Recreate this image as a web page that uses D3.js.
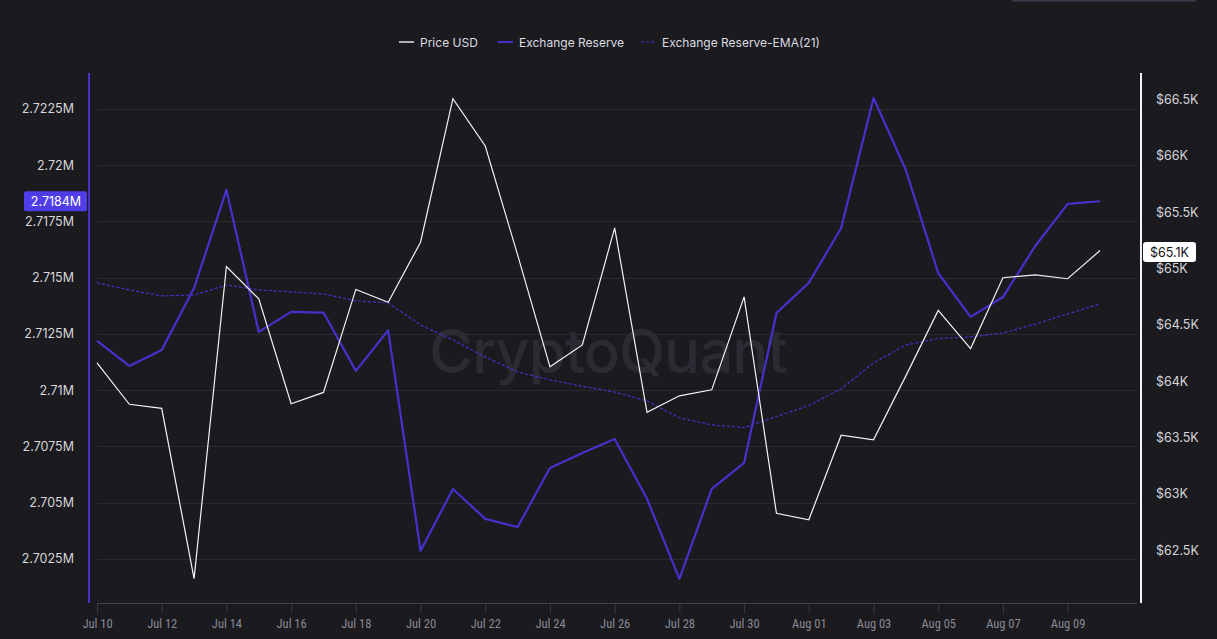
<!DOCTYPE html>
<html>
<head>
<meta charset="utf-8">
<script src="https://cdn.jsdelivr.net/npm/d3@7"></script>
<style>
  html, body { margin: 0; padding: 0; background: #1a1a1f; }
  svg { display: block; }
  text { font-family: Inter, "Noto Sans", sans-serif; }
</style>
</head>
<body>
<div class="container"></div>
<script>
const WIDTH = 1217;
const HEIGHT = 639;

// daily points, Jul 10 .. Aug 10
const startDate = "2024-07-10";
const priceUsd = [64172, 63804, 63768, 62256, 65027, 64739, 63808, 63909, 64823, 64709,
  65242, 66516, 66096, 65130, 64136, 64331, 65369, 63732, 63879, 63932,
  64757, 62836, 62779, 63529, 63489, 64056, 64637, 64298, 64927, 64952,
  64918, 65168];
const reserve = [2.71219, 2.71108, 2.71179, 2.71454, 2.71890, 2.71259, 2.71348, 2.71345, 2.71086, 2.71266,
  2.70286, 2.70561, 2.70428, 2.70392, 2.70654, 2.70721, 2.70783, 2.70517, 2.70161, 2.70561,
  2.70677, 2.71343, 2.71477, 2.71721, 2.72299, 2.71979, 2.71521, 2.71326, 2.71414, 2.71641,
  2.71828, 2.71840];
const reserveEma = [2.71477, 2.71446, 2.71419, 2.71423, 2.71468, 2.71446, 2.71437, 2.71428, 2.71397, 2.71388,
  2.71290, 2.71223, 2.71148, 2.71081, 2.71046, 2.71017, 2.70992, 2.70952, 2.70877, 2.70846,
  2.70834, 2.70883, 2.70932, 2.71006, 2.71121, 2.71201, 2.71230, 2.71237, 2.71254, 2.71294,
  2.71339, 2.71383];
const leftTicks = [2.7025, 2.705, 2.7075, 2.71, 2.7125, 2.715, 2.7175, 2.72, 2.7225];
const rightTicks = [62500, 63000, 63500, 64000, 64500, 65000, 65500, 66000, 66500];
const legendItems = ["Price USD", "Exchange Reserve", "Exchange Reserve-EMA(21)"];

const PURPLE = "#4532cc";
const GRID = "#2a2a31";

var parseDay = d3.timeParse("%Y-%m-%d");
var dates = priceUsd.map(function (d, i) { return d3.timeDay.offset(parseDay(startDate), i); });

var svg = d3.select('.container').append('svg')
  .attr('width', WIDTH)
  .attr('height', HEIGHT);

svg.append('rect').attr('width', WIDTH).attr('height', HEIGHT).attr('fill', '#1a1a1f');
svg.append('rect').attr('x', 1012).attr('y', 0).attr('width', 184).attr('height', 1.5)
  .attr('fill', '#3b3a4c');

var xScale = d3.scaleTime()
  .domain([dates[0], dates[dates.length - 1]])
  .range([97, 1100]);
var yLeft = d3.scaleLinear()
  .domain([2.70054, 2.7241])
  .range([603, 73]);
var yRight = d3.scaleLinear()
  .domain([62040, 66744])
  .range([603, 73]);

// grid
svg.append('g').selectAll('line').data(leftTicks).enter().append('line')
  .attr('x1', 97).attr('x2', 1137)
  .attr('y1', function (d) { return Math.round(yLeft(d)) + 0.5; })
  .attr('y2', function (d) { return Math.round(yLeft(d)) + 0.5; })
  .attr('stroke', GRID).attr('stroke-width', 1);

// watermark
svg.append('text')
  .attr('x', 608).attr('y', 373)
  .attr('text-anchor', 'middle')
  .attr('font-size', 60).attr('font-weight', 500)
  .attr('fill', '#2b2b33')
  .attr('letter-spacing', -1)
  .text('CryptoQuant');

// x axis
var xTicks = dates.filter(function (d, i) { return i % 2 === 0 && i < 31; });
var xAxis = d3.axisBottom(xScale)
  .tickValues(xTicks)
  .tickFormat(d3.timeFormat("%b %d"))
  .tickSize(10)
  .tickPadding(6);
var gx = svg.append('g')
  .attr('transform', 'translate(0,603.5)')
  .call(xAxis);
gx.select('.domain').attr('d', 'M97,0H1137').attr('stroke', '#44444c');
gx.selectAll('.tick line').attr('stroke', '#3a3a42');
gx.selectAll('.tick text')
  .attr('fill', '#8a8a94')
  .attr('font-size', 12.5)
  .style('font-family', '"Liberation Sans Narrow", "Roboto Condensed", sans-serif');

// left axis
var gl = svg.append('g')
  .attr('transform', 'translate(89,0)')
  .call(d3.axisLeft(yLeft).tickValues(leftTicks).tickSize(0).tickPadding(15)
    .tickFormat(function (d) { return d3.format("~")(+d.toFixed(4)) + 'M'; }));
gl.select('.domain').remove();
gl.selectAll('.tick text').attr('fill', '#d6d6da').attr('font-size', 12.5);
svg.append('line').attr('x1', 89).attr('x2', 89).attr('y1', 73).attr('y2', 603)
  .attr('stroke', PURPLE).attr('stroke-width', 2);

// right axis
var gr = svg.append('g')
  .attr('transform', 'translate(1141,-1)')
  .call(d3.axisRight(yRight).tickValues(rightTicks).tickSize(0).tickPadding(15)
    .tickFormat(function (d) { return '$' + d3.format("~")(d / 1000) + 'K'; }));
gr.select('.domain').remove();
gr.selectAll('.tick text').attr('fill', '#d6d6da').attr('font-size', 12.5);
svg.append('line').attr('x1', 1141).attr('x2', 1141).attr('y1', 73).attr('y2', 603)
  .attr('stroke', '#f2f2f2').attr('stroke-width', 2);

// lines
var plot = svg.append('g');
var emaLine = d3.line()
  .x(function (d, i) { return xScale(dates[i]); })
  .y(function (d) { return yLeft(d); });
var resLine = d3.line()
  .x(function (d, i) { return xScale(dates[i]); })
  .y(function (d) { return yLeft(d); });
var priceLine = d3.line()
  .x(function (d, i) { return xScale(dates[i]); })
  .y(function (d) { return yRight(d); });

plot.append('path').attr('d', emaLine(reserveEma))
  .attr('fill', 'none').attr('stroke', PURPLE).attr('stroke-width', 1.2)
  .attr('stroke-dasharray', '3,2');
plot.append('path').attr('d', resLine(reserve))
  .attr('fill', 'none').attr('stroke', PURPLE).attr('stroke-width', 2.2)
  .attr('stroke-linejoin', 'round');
plot.append('path').attr('d', priceLine(priceUsd))
  .attr('fill', 'none').attr('stroke', '#f4f4f4').attr('stroke-width', 1.2);

// last value badges
var lastRes = reserve[reserve.length - 1];
var lastPrice = priceUsd[priceUsd.length - 1];
var ly = yLeft(lastRes);
svg.append('rect').attr('x', 24).attr('y', ly - 10).attr('width', 63).attr('height', 20)
  .attr('rx', 2).attr('fill', '#4f3de8');
svg.append('text').attr('x', 56).attr('y', ly + 4.5).attr('text-anchor', 'middle')
  .attr('fill', '#ffffff').attr('font-size', 12.5)
  .text(lastRes.toFixed(4) + 'M');
var ry = yRight(lastPrice);
svg.append('rect').attr('x', 1143).attr('y', ry - 8.5).attr('width', 53).attr('height', 20)
  .attr('rx', 3).attr('fill', '#ffffff');
svg.append('text').attr('x', 1169.5).attr('y', ry + 6).attr('text-anchor', 'middle')
  .attr('fill', '#111111').attr('font-size', 12.5)
  .text('$' + (Math.floor(lastPrice / 100) / 10) + 'K');

// legend
var legendX = [399, 498, 641];
var legend = svg.append('g');
legendItems.forEach(function (name, i) {
  var g = legend.append('g').attr('transform', 'translate(' + legendX[i] + ',42)');
  g.append('line').attr('x1', 0).attr('x2', 15).attr('y1', 0).attr('y2', 0)
    .attr('stroke', i === 0 ? '#b0b0b4' : PURPLE)
    .attr('stroke-width', i === 2 ? 1.2 : 2)
    .attr('stroke-dasharray', i === 2 ? '3,2' : null);
  g.append('text').attr('x', 21).attr('y', 4.5)
    .attr('fill', '#dcdce0').attr('font-size', 12)
    .text(name);
});
</script>
</body>
</html>
